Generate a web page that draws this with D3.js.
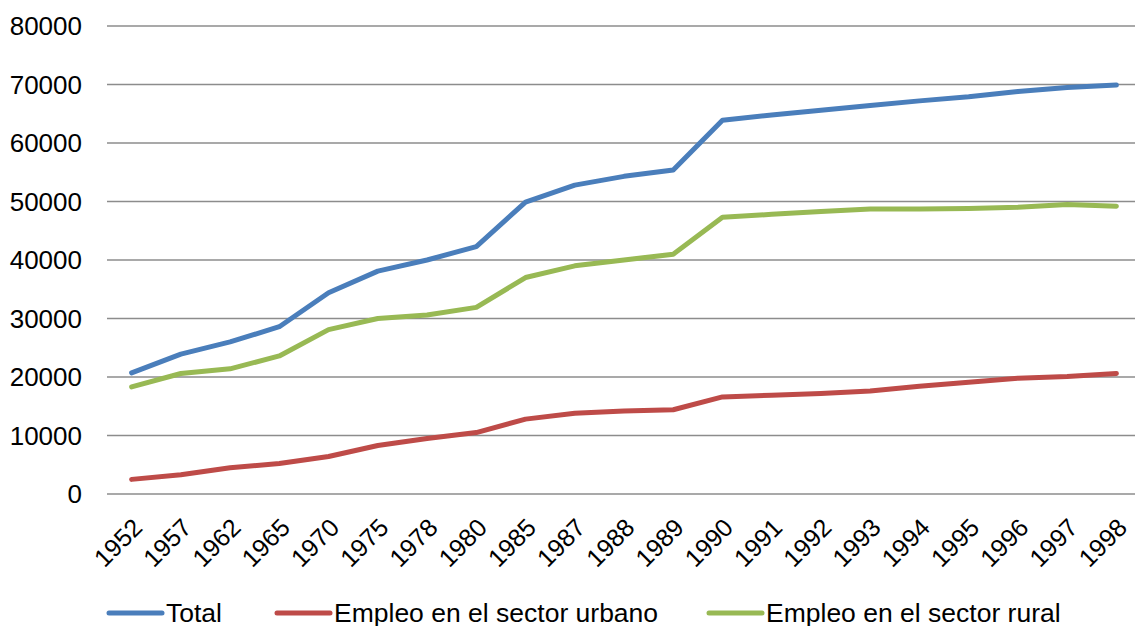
<!DOCTYPE html>
<html>
<head>
<meta charset="utf-8">
<script src="https://cdn.jsdelivr.net/npm/d3@7"></script>
<style>
  body { margin: 0; background: #fff; }
  svg { display: block; font-family: "Liberation Sans", Arial, sans-serif; }
</style>
</head>
<body>
<div id="chart"></div>
<script>
const years = ['1952', '1957', '1962', '1965', '1970', '1975', '1978', '1980', '1985', '1987', '1988',
    '1989', '1990', '1991', '1992', '1993', '1994', '1995', '1996', '1997', '1998'];
const total = [20700, 23900, 26000, 28600, 34400, 38100, 40000, 42300, 49900, 52800, 54300,
    55400, 63900, 64800, 65600, 66400, 67200, 67900, 68800, 69500, 69900];
const urbano = [2500, 3300, 4500, 5200, 6400, 8300, 9500, 10500, 12800, 13800, 14200,
    14400, 16600, 16900, 17200, 17600, 18400, 19100, 19800, 20100, 20600];
const rural = [18300, 20600, 21400, 23600, 28100, 30000, 30600, 31900, 37000, 39000, 40000,
    41000, 47300, 47800, 48300, 48700, 48700, 48800, 49000, 49500, 49200];
const yTicks = [0, 10000, 20000, 30000, 40000, 50000, 60000, 70000, 80000];
const seriesNames = ['Total', 'Empleo en el sector urbano', 'Empleo en el sector rural'];
const seriesColors = ['#4a7ebb', '#be4b48', '#98b954'];

const width = 1135, height = 626;
const margin = {top: 26, right: -6, bottom: 132, left: 107};

const svg = d3.select('#chart').append('svg')
    .attr('width', width)
    .attr('height', height);

let x = d3.scaleBand()
    .domain(years)
    .range([margin.left, width - margin.right]);
let y = d3.scaleLinear()
    .domain([0, 80000])
    .range([height - margin.bottom, margin.top]);

// gridlines
svg.append('g')
    .attr('id', 'grid')
    .selectAll('line')
    .data(yTicks)
    .join('line')
    .attr('x1', margin.left)
    .attr('x2', width - margin.right)
    .attr('y1', d => y(d))
    .attr('y2', d => y(d))
    .attr('stroke', '#8c8c8c')
    .attr('stroke-width', 1.5);

// y labels
svg.append('g')
    .attr('id', 'y-axis')
    .selectAll('text')
    .data(yTicks)
    .join('text')
    .attr('x', 82)
    .attr('y', d => y(d))
    .attr('dy', '0.36em')
    .attr('text-anchor', 'end')
    .attr('font-size', 26)
    .attr('fill', '#000')
    .text(d => d);

// x labels, rotated
svg.append('g')
    .attr('id', 'x-axis')
    .selectAll('text')
    .data(years)
    .join('text')
    .attr('transform', d => `translate(${x(d) + x.bandwidth() / 2 + 6},${y(0) + 29}) rotate(-45)`)
    .attr('text-anchor', 'end')
    .attr('dy', '0.35em')
    .attr('font-size', 25)
    .attr('fill', '#000')
    .text(d => d);

const allSeries = [total, urbano, rural];
const line = d3.line()
    .x((d, i) => x(years[i]) + x.bandwidth() / 2)
    .y(d => y(d));

svg.append('g')
    .attr('id', 'data')
    .selectAll('path')
    .data(allSeries)
    .join('path')
    .attr('d', d => line(d))
    .attr('fill', 'none')
    .attr('stroke', (d, i) => seriesColors[i])
    .attr('stroke-width', 5)
    .attr('stroke-linecap', 'round')
    .attr('stroke-linejoin', 'round');

// legend
const legendX = [107, 275, 707];
let legend = svg.append('g')
    .attr('id', 'legend')
    .selectAll('g')
    .data(seriesNames)
    .join('g')
    .attr('transform', (d, i) => `translate(${legendX[i]},613)`);
legend.append('line')
    .attr('x1', 2)
    .attr('x2', 55)
    .attr('stroke', (d, i) => seriesColors[i])
    .attr('stroke-width', 5)
    .attr('stroke-linecap', 'round');
legend.append('text')
    .attr('x', 59)
    .attr('dy', '0.34em')
    .attr('font-size', 26.5)
    .attr('fill', '#000')
    .text(d => d);
</script>
</body>
</html>
